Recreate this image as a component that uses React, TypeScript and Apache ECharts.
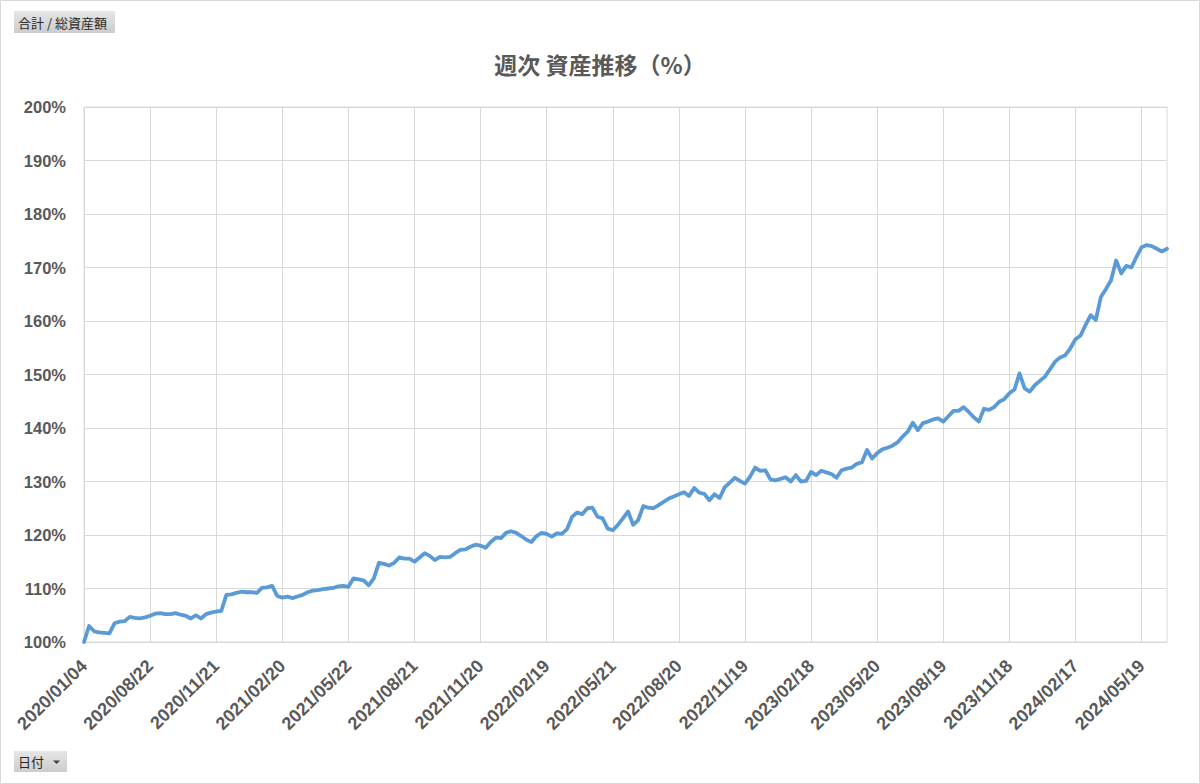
import React, { useEffect, useRef } from "react";
import * as echarts from "echarts";

// Tick labels shown on the category axis (every 13th weekly point)
const tickDates = [
  "2020/01/04", "2020/08/22", "2020/11/21", "2021/02/20", "2021/05/22",
  "2021/08/21", "2021/11/20", "2022/02/19", "2022/05/21", "2022/08/20",
  "2022/11/19", "2023/02/18", "2023/05/20", "2023/08/19", "2023/11/18",
  "2024/02/17", "2024/05/19",
];
const pointsPerTick = 13;
const pointsAfterLastTick = 6;

// Weekly total asset ratio (%), one row per tick segment
const seg00 = [100.0, 103.0, 102.0, 101.8, 101.7, 101.6, 103.5, 103.8, 103.9, 104.7, 104.5, 104.4, 104.6];
const seg01 = [104.9, 105.3, 105.4, 105.2, 105.2, 105.4, 105.1, 104.9, 104.4, 105.0, 104.4, 105.2, 105.5];
const seg02 = [105.7, 105.8, 108.8, 108.9, 109.2, 109.4, 109.3, 109.3, 109.2, 110.1, 110.2, 110.5, 108.6];
const seg03 = [108.3, 108.5, 108.2, 108.5, 108.8, 109.3, 109.6, 109.7, 109.9, 110.0, 110.1, 110.4, 110.5];
const seg04 = [110.3, 111.9, 111.7, 111.5, 110.6, 111.9, 114.8, 114.6, 114.3, 114.8, 115.8, 115.6, 115.6];
const seg05 = [115.0, 115.8, 116.6, 116.1, 115.3, 115.9, 115.8, 115.9, 116.6, 117.2, 117.3, 117.8, 118.2];
const seg06 = [118.0, 117.6, 118.7, 119.5, 119.4, 120.4, 120.7, 120.4, 119.8, 119.1, 118.7, 119.8, 120.4];
const seg07 = [120.2, 119.7, 120.3, 120.2, 121.1, 123.4, 124.2, 123.9, 125.0, 125.1, 123.4, 123.1, 121.2];
const seg08 = [120.9, 121.9, 123.1, 124.4, 121.9, 122.8, 125.4, 125.1, 125.0, 125.6, 126.2, 126.8, 127.2];
const seg09 = [127.6, 128.0, 127.3, 128.8, 127.9, 127.7, 126.5, 127.6, 126.9, 128.9, 129.8, 130.7, 130.1];
const seg10 = [129.6, 130.9, 132.6, 132.0, 132.1, 130.4, 130.2, 130.5, 130.8, 130.0, 131.2, 130.0, 130.1];
const seg11 = [131.8, 131.2, 132.0, 131.7, 131.4, 130.7, 132.1, 132.4, 132.6, 133.3, 133.6, 135.9, 134.3];
const seg12 = [135.3, 136.0, 136.3, 136.7, 137.3, 138.4, 139.3, 141.0, 139.6, 140.9, 141.2, 141.6, 141.8];
const seg13 = [141.2, 142.2, 143.2, 143.2, 143.9, 143.0, 142.0, 141.2, 143.6, 143.4, 143.9, 144.9, 145.4];
const seg14 = [146.5, 147.2, 150.2, 147.4, 146.8, 148.0, 148.8, 149.6, 151.0, 152.4, 153.2, 153.6, 154.9];
const seg15 = [156.6, 157.3, 159.3, 161.1, 160.2, 164.5, 166.0, 167.6, 171.3, 168.9, 170.3, 170.0, 172.0];
const seg16 = [173.8, 174.2, 174.0, 173.5, 173.0, 173.5];

const values = [
  ...seg00, ...seg01, ...seg02, ...seg03, ...seg04, ...seg05, ...seg06, ...seg07, ...seg08,
  ...seg09, ...seg10, ...seg11, ...seg12, ...seg13, ...seg14, ...seg15, ...seg16,
];

const yMin = 100;
const yMax = 200;
const yStep = 10;

const pad = (n: number) => (n < 10 ? "0" + n : "" + n);
const fmt = (d: Date) => `${d.getUTCFullYear()}/${pad(d.getUTCMonth() + 1)}/${pad(d.getUTCDate())}`;

function buildCategories(): string[] {
  const out: string[] = [];
  tickDates.forEach((t, i) => {
    const [y, m, d] = t.split("/").map(Number);
    const base = Date.UTC(y, m - 1, d);
    const count = i === tickDates.length - 1 ? pointsAfterLastTick : pointsPerTick;
    for (let k = 0; k < count; k++) {
      out.push(k === 0 ? t : fmt(new Date(base + k * 7 * 86400000)));
    }
  });
  return out;
}

const categories = buildCategories();

export default function App() {
  const ref = useRef<HTMLDivElement>(null);
  useEffect(() => {
    document.body.style.margin = "0";
    if (!ref.current) return;
    const chart = echarts.init(ref.current, undefined, { renderer: "svg" });
    const grayText = "#595959";
    const gridColor = "#d9d9d9";
    const font = "'Liberation Sans', Arial, sans-serif";
    const cjk = "'Noto Sans CJK JP', sans-serif";
    const btnFill = () =>
      new echarts.graphic.LinearGradient(0, 0, 0, 1, [
        { offset: 0, color: "#e6e6e6" },
        { offset: 1, color: "#cccccc" },
      ]);
    chart.setOption({
      animation: false,
      backgroundColor: "#ffffff",
      title: {
        text: "週次 資産推移（%）",
        left: "center",
        top: 47,
        textStyle: { color: grayText, fontSize: 23, fontWeight: "bold", fontFamily: cjk },
      },
      grid: {
        left: 84,
        right: 33,
        top: 107,
        bottom: 142,
        show: true,
        borderColor: gridColor,
        borderWidth: 1,
        containLabel: false,
      },
      xAxis: {
        type: "category",
        data: categories,
        boundaryGap: false,
        axisLine: { show: true, lineStyle: { color: gridColor, width: 1 } },
        axisTick: { show: false },
        axisLabel: {
          interval: pointsPerTick - 1,
          rotate: 45,
          margin: 21,
          color: grayText,
          fontSize: 18,
          fontWeight: "bold",
          fontFamily: font,
        },
        splitLine: { show: true, interval: pointsPerTick - 1, lineStyle: { color: gridColor, width: 1 } },
      },
      yAxis: {
        type: "value",
        min: yMin,
        max: yMax,
        interval: yStep,
        axisLine: { show: false },
        axisTick: { show: false },
        axisLabel: {
          formatter: (v: number) => `${v}%`,
          margin: 18,
          color: grayText,
          fontSize: 16.5,
          fontWeight: "bold",
          fontFamily: font,
        },
        splitLine: { show: true, lineStyle: { color: gridColor, width: 1 } },
      },
      series: [
        {
          type: "line",
          data: values,
          showSymbol: false,
          symbol: "none",
          lineStyle: { color: "#5b9bd5", width: 3.8, cap: "round", join: "round" },
          itemStyle: { color: "#5b9bd5" },
        },
      ],
      graphic: [
        {
          type: "rect",
          shape: { x: 0.5, y: 0.5, width: 1199, height: 783 },
          style: { fill: "none", stroke: gridColor, lineWidth: 1 },
          silent: true,
        },
        {
          type: "group",
          left: 14,
          top: 11,
          children: [
            {
              type: "rect",
              shape: { x: 0, y: 0, width: 101, height: 22 },
              style: { fill: btnFill() },
            },
            {
              type: "text",
              x: 4,
              y: 11,
              style: {
                text: "合計 / 総資産額",
                fill: "#262626",
                fontSize: 13,
                fontFamily: cjk,
                verticalAlign: "middle",
              },
            },
          ],
        },
        {
          type: "group",
          left: 14,
          top: 751,
          children: [
            {
              type: "rect",
              shape: { x: 0, y: 0, width: 53, height: 21 },
              style: { fill: btnFill() },
            },
            {
              type: "text",
              x: 4,
              y: 10.5,
              style: {
                text: "日付",
                fill: "#262626",
                fontSize: 13,
                fontFamily: cjk,
                verticalAlign: "middle",
              },
            },
            {
              type: "polygon",
              shape: { points: [[39, 9.5], [46, 9.5], [42.5, 13]] },
              style: { fill: "#404040" },
            },
          ],
        },
      ],
    });
    return () => chart.dispose();
  }, []);
  return <div ref={ref} style={{ width: 1200, height: 784 }} />;
}
